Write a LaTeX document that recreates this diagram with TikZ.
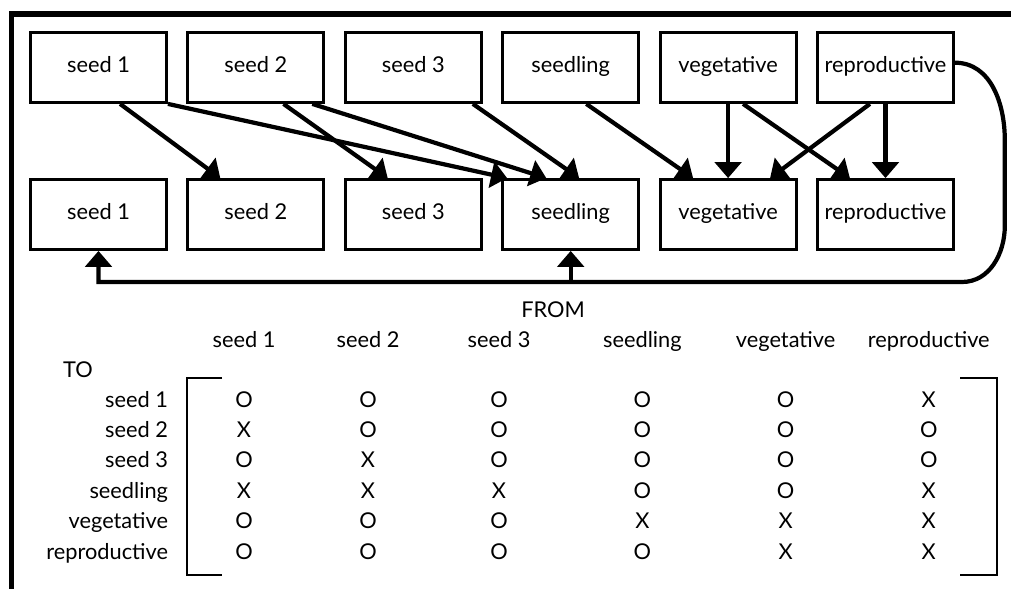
\documentclass[tikz,border=0pt]{standalone}
\usepackage{fontspec}
\setmainfont{Lato}
\usetikzlibrary{arrows.meta}

\begin{document}
\begin{tikzpicture}[
    box/.style={draw,line width=2pt,minimum width=3.4cm,minimum height=1.75cm,inner sep=0pt,
      text height=10pt,text depth=2.2pt},
    conn/.style={line width=3pt,-{Triangle[length=0.4cm,width=0.66cm]}},
    brk/.style={line width=2pt},
    every node/.style={font=\fontsize{15.5}{18}\selectfont}]
  \useasboundingbox (0,0) rectangle (25.275,-14.725);
  \draw[line width=4pt] (0.2875,-15) -- (0.2875,-0.35) -- (25.5,-0.35);
  % the two rows of stages
  \foreach \lab [count=\i] in {seed 1,seed 2,seed 3,seedling,vegetative,reproductive}{
    \node[box] (t\i) at ({3.935*\i-1.4725},-1.6875) {\lab};
    \node[box] (b\i) at ({3.935*\i-1.4725},-5.3625) {\lab};
  }
  % transitions between the rows
  \foreach \s/\ds/\e/\de in {1/0.54/2/-0.89, 2/0.69/3/-0.64, 2/1.41/4/-0.61, 3/1.49/4/0.21,
      4/0.39/5/-0.875, 5/0/5/0, 5/0.375/6/-0.89, 6/-0.39/5/1.05, 6/0/6/0}{
    \draw[conn] ([xshift=\ds cm]t\s.south) -- ([xshift=\de cm]b\e.north);
  }
  \draw[conn] (t1.south east) -- ([xshift=-1.59cm]b4.north);
  % the loop back from reproductive
  \coordinate (rtop) at (25.12,-3.5);
  \coordinate (rbot) at (25.12,-5.65);
  \coordinate (lbot) at (24.05,-7.05);
  \draw[conn] ([yshift=0.12cm]t6.east) to[out=0,in=90] (rtop) -- (rbot) to[out=-90,in=0] (lbot) -| (b1.south);
  \draw[conn] (b4.south |- lbot) -- (b4.south);
  % the matrix
  \node[anchor=base] (from) at (13.825,-7.925) {FROM};
  \node[anchor=base] (to) at (1.95,-9.43) {TO};
  \foreach \x/\lab/\col [count=\c] in {6.1/seed 1/{O,X,O,X,O,O}, 9.2/seed 2/{O,O,X,X,O,O},
      12.475/seed 3/{O,O,O,X,O,O}, 16.06/seedling/{O,O,O,O,X,O},
      19.64/vegetative/{O,O,O,O,X,X}, 23.22/reproductive/{X,O,O,X,X,X}}{
    \node[anchor=base] (h\c) at (\x,-8.7) {\lab};
    \foreach \m [count=\r] in \col {
      \node[anchor=base] (m\r\c) at (\x,{-10.175-0.76*(\r-1)}) {\m};
    }
  }
  \foreach \lab [count=\r] in {seed 1,seed 2,seed 3,seedling,vegetative,reproductive}{
    \node[anchor=base east] (r\r) at (4.325,{-10.175-0.76*(\r-1)}) {\lab};
  }
  \draw[brk] (5.55,-9.45) -- (4.675,-9.45) -- (4.675,-14.375) -- (5.55,-14.375);
  \draw[brk] (24.0,-9.45) -- (24.925,-9.45) -- (24.925,-14.375) -- (24.0,-14.375);
\end{tikzpicture}
\end{document}
